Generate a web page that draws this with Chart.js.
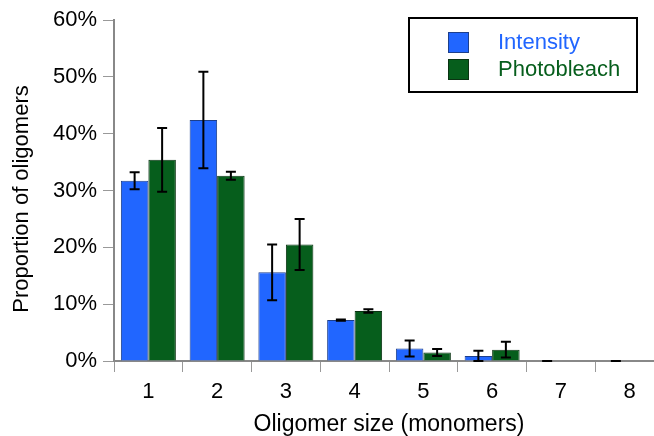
<!DOCTYPE html>
<html>
<head>
<meta charset="utf-8">
<script src="https://cdn.jsdelivr.net/npm/chart.js@4"></script>
<style>
  html, body { margin: 0; padding: 0; background: #fff; overflow: hidden; }
  #wrap { width: 664px; height: 436px; }
</style>
</head>
<body>
<div id="wrap"><canvas id="oligoChart"></canvas></div>
<script>
// Oligomer size distribution (percent)
const categories = ['1', '2', '3', '4', '5', '6', '7', '8'];
const intensity = [31.7, 42.4, 15.6, 7.2, 2.2, 0.9, 0, 0];
const intensityErr = [1.5, 8.5, 4.9, 0.1, 1.4, 0.9, 0, 0];
const photobleach = [35.4, 32.6, 20.5, 8.8, 1.5, 2.0, 0, 0];
const photobleachErr = [5.6, 0.7, 4.5, 0.3, 0.6, 1.4, null, null];
const yTicks = [0, 10, 20, 30, 40, 50, 60];
const yTitle = 'Proportion of oligomers';

const FONT = 'Liberation Sans, Arial, sans-serif';

// error bars drawn on top of the bars
const errorBars = {
  id: 'errorBars',
  afterDatasetsDraw(chart) {
    const ctx = chart.ctx;
    const y = chart.scales.y;
    const errs = [intensityErr, photobleachErr];
    ctx.save();
    ctx.strokeStyle = '#000';
    ctx.lineWidth = 2;
    chart.data.datasets.forEach((ds, i) => {
      const meta = chart.getDatasetMeta(i);
      meta.data.forEach((bar, j) => {
        const e = errs[i][j];
        if (e === null || e === undefined) return;
        const v = ds.data[j];
        const top = y.getPixelForValue(v + e);
        const bot = y.getPixelForValue(Math.max(0, v - e));
        ctx.beginPath();
        ctx.moveTo(bar.x, top); ctx.lineTo(bar.x, bot);
        ctx.moveTo(bar.x - 5, top); ctx.lineTo(bar.x + 5, top);
        ctx.moveTo(bar.x - 5, bot); ctx.lineTo(bar.x + 5, bot);
        ctx.stroke();
      });
    });
    ctx.restore();
  }
};

// boxed legend in the top right + rotated y title
const boxLegend = {
  id: 'boxLegend',
  afterDraw(chart) {
    const ctx = chart.ctx;
    ctx.save();
    ctx.fillStyle = '#fff';
    ctx.fillRect(409, 18, 228, 74);
    ctx.strokeStyle = '#000';
    ctx.lineWidth = 2;
    ctx.strokeRect(409, 18, 228, 74);
    ctx.font = '22px ' + FONT;
    ctx.textBaseline = 'middle';
    chart.data.datasets.forEach((ds, i) => {
      const yy = 42 + i * 27;
      ctx.fillStyle = ds.backgroundColor;
      ctx.fillRect(448, yy - 10, 21, 21);
      ctx.strokeStyle = ds.borderColor;
      ctx.lineWidth = 1;
      ctx.strokeRect(448.5, yy - 9.5, 20, 20);
      ctx.fillStyle = ds.backgroundColor;
      ctx.fillText(ds.label, 498, yy + 1);
    });
    ctx.restore();

    ctx.save();
    ctx.translate(22, 199);
    ctx.rotate(-Math.PI / 2);
    ctx.font = '22px ' + FONT;
    ctx.fillStyle = '#000';
    ctx.textAlign = 'center';
    ctx.textBaseline = 'middle';
    ctx.fillText(yTitle, 0, 0);
    ctx.restore();
  }
};

new Chart(document.getElementById('oligoChart'), {
  type: 'bar',
  data: {
    labels: categories,
    datasets: [{
      label: 'Intensity',
      data: intensity,
      backgroundColor: '#2166ff',
      borderColor: '#1d3f8c',
      borderWidth: 1
    }, {
      label: 'Photobleach',
      data: photobleach,
      backgroundColor: '#065e1c',
      borderColor: '#0a3312',
      borderWidth: 1
    }]
  },
  options: {
    responsive: true,
    maintainAspectRatio: false,
    animation: false,
    categoryPercentage: 0.8,
    barPercentage: 1.0,
    layout: { padding: { top: 20, left: 0, right: 0, bottom: 0 } },
    plugins: {
      legend: { display: false },
      tooltip: { enabled: false }
    },
    scales: {
      x: {
        grid: { display: true, drawOnChartArea: false, offset: true, color: '#999', tickLength: 11 },
        border: { color: '#888', width: 2 },
        ticks: { color: '#000', font: { family: FONT, size: 22 }, padding: 7 },
        title: { display: true, text: 'Oligomer size (monomers)', color: '#000', font: { family: FONT, size: 23 }, padding: { top: 0, bottom: -2 } },
        afterFit(scale) { scale.height = 75; }
      },
      y: {
        min: 0,
        max: 60,
        afterBuildTicks(scale) { scale.ticks = yTicks.map(v => ({ value: v })); },
        grid: { display: true, drawOnChartArea: false, color: '#999', tickLength: 11 },
        border: { color: '#888', width: 2 },
        ticks: { color: '#000', font: { family: FONT, size: 22 }, padding: 6, callback: v => v + '%' },
        afterFit(scale) { scale.width = 114; }
      }
    }
  },
  plugins: [errorBars, boxLegend]
});
</script>
</body>
</html>
